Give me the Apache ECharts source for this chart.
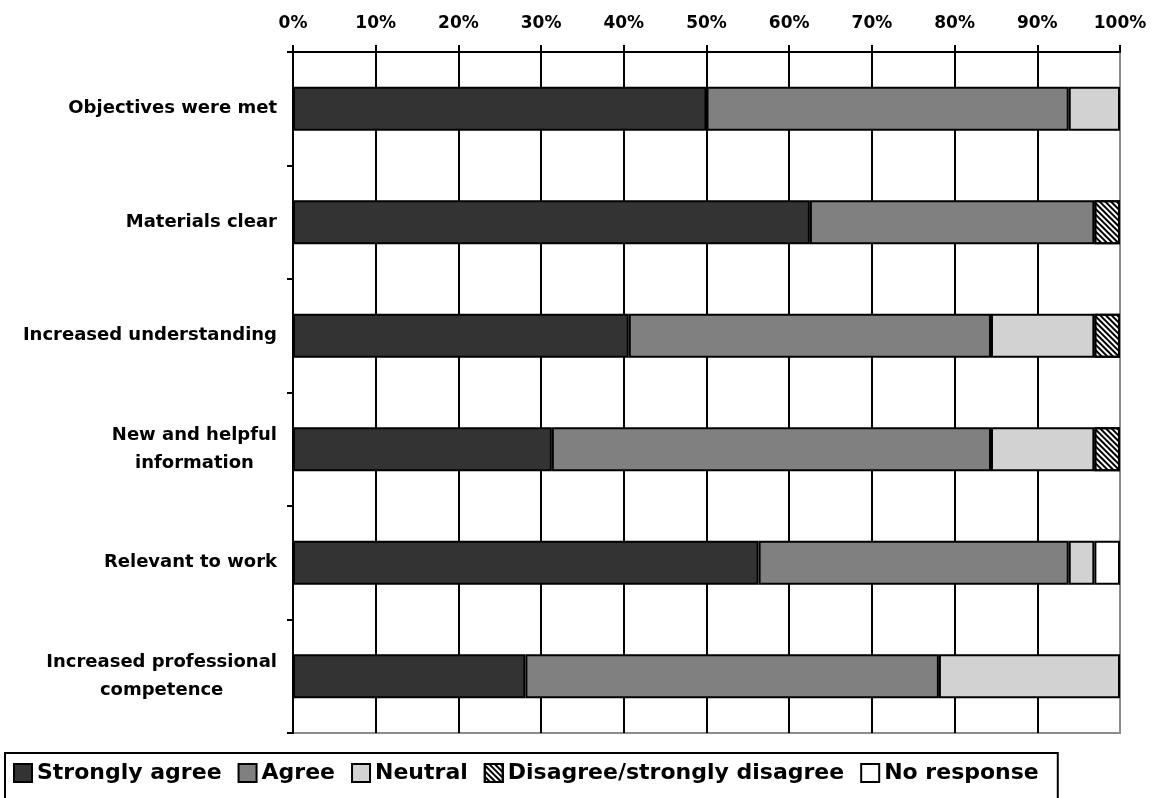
<!DOCTYPE html>
<html>
<head>
<meta charset="utf-8">
<script src="https://cdn.jsdelivr.net/npm/echarts@6/dist/echarts.min.js"></script>
<style>html,body{margin:0;padding:0;background:#fff;}#c{width:1155px;height:798px;}</style>
</head>
<body>
<div id="c"></div>
<script>
const categories = ['Objectives were met', 'Materials clear', 'Increased understanding', 'New and helpful\ninformation', 'Relevant to work', 'Increased professional\ncompetence'];
const seriesNames = ['Strongly agree', 'Agree', 'Neutral', 'Disagree/strongly disagree', 'No response'];
const stronglyAgree = [50.0, 62.5, 40.6, 31.3, 56.3, 28.1];
const agree = [43.8, 34.4, 43.8, 53.1, 37.5, 50.0];
const neutral = [6.2, 0, 12.5, 12.5, 3.1, 21.9];
const disagree = [0, 3.1, 3.1, 3.1, 0, 0];
const noResponse = [0, 0, 0, 0, 3.1, 0];
const xTicks = [0, 10, 20, 30, 40, 50, 60, 70, 80, 90, 100];

const FONT = 'DejaVu Sans';
const values = [stronglyAgree, agree, neutral, disagree, noResponse];
const fills = ['#333333', '#808080', '#d2d2d2', '#ffffff', '#ffffff'];
const decals = [null, null, null, {
  symbol: 'rect', symbolSize: 1, color: '#000000', backgroundColor: null,
  dashArrayX: [1, 0], dashArrayY: [1.6, 1.1], rotation: Math.PI / 4
}, null];

const chart = echarts.init(document.getElementById('c'), null, {renderer: 'canvas'});
const series = seriesNames.map((name, i) => {
  const item = {color: fills[i], borderColor: '#000', borderWidth: 2};
  if (decals[i]) item.decal = decals[i];
  return {
    name: name,
    type: 'bar',
    stack: 'total',
    barWidth: 44,
    itemStyle: item,
    emphasis: {disabled: true},
    data: values[i].map(v => v === 0 ? '-' : v)
  };
});

chart.setOption({
  animation: false,
  backgroundColor: '#ffffff',
  grid: {left: 293, right: 35, top: 52, bottom: 65, show: true, borderColor: '#8c8c8c', borderWidth: 2, backgroundColor: 'transparent'},
  xAxis: {
    type: 'value', position: 'top', min: xTicks[0], max: xTicks[xTicks.length - 1], interval: 10,
    axisLine: {show: true, lineStyle: {color: '#000', width: 2}},
    axisTick: {show: true, length: 7, lineStyle: {color: '#000', width: 2}},
    splitLine: {show: true, showMaxLine: false, lineStyle: {color: '#000', width: 2}},
    axisLabel: {formatter: '{value}%', color: '#000', fontFamily: FONT, fontWeight: 'bold', fontSize: 17, margin: 20}
  },
  yAxis: {
    type: 'category', data: categories, inverse: true,
    axisLine: {show: true, lineStyle: {color: '#000', width: 2}},
    axisTick: {show: true, length: 6, lineStyle: {color: '#000', width: 2}},
    splitLine: {show: false},
    axisLabel: {
      margin: 16, color: '#000',
      formatter: v => v.split('\n').map(l => '{c|' + l + '}').join('\n'),
      rich: {c: {align: 'center', fontFamily: FONT, fontWeight: 'bold', fontSize: 18, lineHeight: 28, color: '#000'}}
    }
  },
  legend: {
    left: 5, top: 753, orient: 'horizontal',
    data: seriesNames,
    itemWidth: 18, itemHeight: 18, itemGap: 16,
    padding: [9, 19, 30, 8],
    borderColor: '#000', borderWidth: 2,
    selectedMode: false,
    icon: 'rect',
    textStyle: {fontFamily: FONT, fontWeight: 'bold', fontSize: 22, color: '#000'}
  },
  series: series
});
</script>
</body>
</html>
